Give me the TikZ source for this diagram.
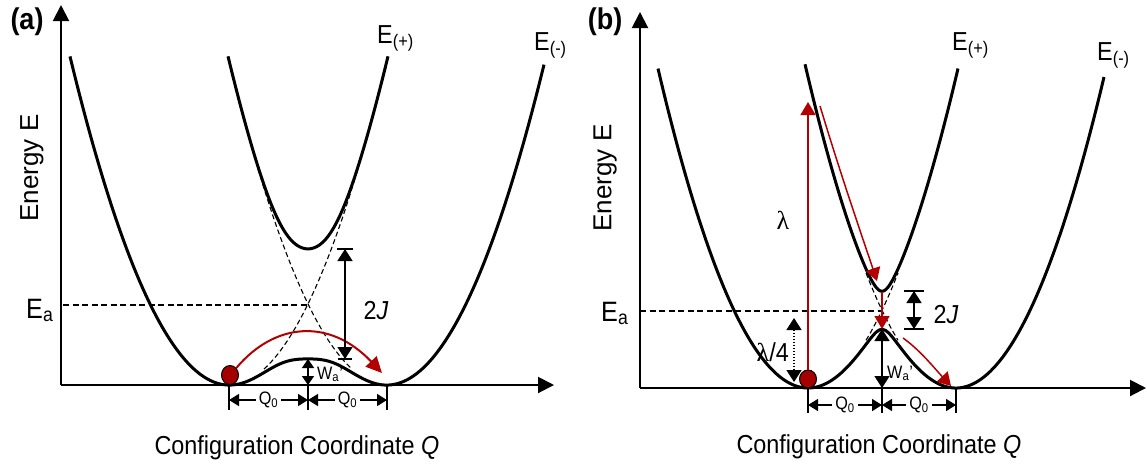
\documentclass[tikz,border=0pt]{standalone}
\usepackage{fontspec}
\setmainfont{Liberation Sans}[FakeStretch=0.9]
\newfontfamily\uprightsans{Liberation Sans}
\newfontfamily\lamfont{Liberation Serif}
\usepackage{xcolor}
\usepackage{tikz}
\usetikzlibrary{arrows.meta, shapes.geometric}
\definecolor{hopred}{RGB}{178,0,0}
\definecolor{ballred}{RGB}{165,0,0}
\def\skA{0.11402}
\def\skB{0.11916}
\tikzset{declare function={
  dia(\q,\ca,\s)=(\s*(\q-\ca))^2;
  cpl(\q,\ca,\cb,\j)=\j*exp(-min(((\q-0.5*(\ca+\cb))/50)^2,9));
  eup(\q,\ca,\cb,\s,\j)=0.5*(dia(\q,\ca,\s)+dia(\q,\cb,\s))+10*veclen(0.05*(dia(\q,\ca,\s)-dia(\q,\cb,\s)),0.1*cpl(\q,\ca,\cb,\j));
  elo(\q,\ca,\cb,\s,\j)=0.5*(dia(\q,\ca,\s)+dia(\q,\cb,\s))-10*veclen(0.05*(dia(\q,\ca,\s)-dia(\q,\cb,\s)),0.1*cpl(\q,\ca,\cb,\j));
}}
\newcommand{\wells}[9]{%
% #1 = axis row, #2/#3 = well centres, #4 = sqrt of force constant, #5 = J
% #6-#7 = domain of E(-), #8-#9 = domain of E(+)
\draw[pes] plot[domain=#6:#7] (\x,{#1-elo(\x,#2,#3,#4,#5)});
\draw[pes] plot[domain=#8:#9] (\x,{#1-eup(\x,#2,#3,#4,#5)});
}

\begin{document}
\begin{tikzpicture}[
    x=1pt, y=-1pt,
    pes/.style={line width=3pt, line join=round, smooth, samples=150},
    diab/.style={line width=1.1pt, dash pattern=on 5pt off 3pt, smooth, samples=40},
    axis/.style={line width=2pt, -{Triangle[length=16pt,width=16pt]}},
    guide/.style={line width=1.2pt, dash pattern=on 6pt off 3.5pt},
    tick/.style={line width=1.4pt},
    span/.style={line width=1.5pt, {Triangle[length=10pt,width=12pt]}-{Triangle[length=10pt,width=12pt]}},
    gap/.style={line width=1.5pt, {Triangle[length=12pt,width=15pt]}-{Triangle[length=12pt,width=15pt]}},
    wgap/.style={line width=1.5pt, {Triangle[length=9pt,width=12pt]}-{Triangle[length=9pt,width=12pt]}},
    hop/.style={hopred, line width=2pt, -{Triangle[length=16pt,width=15pt]}},
    hopthin/.style={hopred, line width=1.5pt, -{Triangle[length=13pt,width=15pt]}},
    ball/.style={ellipse, draw=black, line width=1pt, fill=ballred, minimum width=17pt, minimum height=19pt, inner sep=0pt},
    big/.style={font=\fontsize{26}{28}\selectfont, inner sep=0pt},
    large/.style={font=\fontsize{28}{30}\selectfont, inner sep=0pt},
    ylab/.style={font=\fontsize{26}{28}\selectfont\uprightsans, inner sep=0pt, rotate=90},
    small/.style={font=\fontsize{18}{20}\selectfont, inner sep=0pt},
    tag/.style={font=\fontsize{30}{32}\selectfont\bfseries, inner sep=0pt},
    qlabel/.style={small, fill=white, inner xsep=3pt, inner ysep=1pt}
]
\useasboundingbox (0,0) rectangle (1147,467);

% Panel (a)
\coordinate (originA) at (61,385);
\coordinate (yTopA) at (61,5);
\coordinate (xEndA) at (554,385);
\draw[axis] (originA) -- (yTopA);
\draw[axis] (originA) -- (xEndA);
\draw[diab] plot[domain=264:358] (\x,{385-dia(\x,229,\skA)});
\draw[diab] plot[domain=258:352] (\x,{385-dia(\x,387,\skA)});
\coordinate (eaLineA) at (63,305);
\coordinate (crossA) at (308,305);
\draw[guide] (eaLineA) -- (crossA);
\wells{385}{229}{387}{\skA}{55}{70}{544}{228}{388}
\node[ball] (ballA) at (230,375) {};
\coordinate (hopEndA) at (382,373);
\draw[hop] (ballA.north east) .. controls (275,322) and (330,318) .. (hopEndA);
\coordinate (jTopA) at (345,249);
\coordinate (jBotA) at (345,359);
\draw[gap] (jTopA) -- (jBotA);
\draw[tick] ([xshift=-8pt]jTopA) -- ([xshift=8pt]jTopA);
\draw[tick] ([xshift=-7pt]jBotA) -- ([xshift=7pt]jBotA);
\coordinate (wTopA) at (308,359);
\coordinate (wBotA) at (308,385);
\draw[wgap] (wTopA) -- (wBotA);
\coordinate (qLA) at (229,400);
\coordinate (qMA) at (308,400);
\coordinate (qRA) at (387,400);
\foreach \t in {qLA,qMA,qRA}
  \draw[tick] ([yshift=15pt]\t) -- ([yshift=-10pt]\t);
\draw[span] (qLA) -- node[qlabel] (q0LA) {Q\textsubscript{0}} (qMA);
\draw[span] (qMA) -- node[qlabel] (q0RA) {Q\textsubscript{0}} (qRA);
\node[tag] (tagA) at (27,22) {(a)};
\node[ylab] (yLabA) at (32,168) {Energy E};
\node[large, anchor=base west] (eaA) at (26,318) {E\textsubscript{a}};
\node[big, anchor=base west] (eplusA) at (377,43) {E\textsubscript{(+)}};
\node[big, anchor=base west] (eminusA) at (534,50) {E\textsubscript{(-)}};
\node[big] (twoJA) at (376,311) {2\textit{J}};
\node[small, anchor=base west] (waA) at (317,379) {W\textsubscript{a}'};
\node[big] (xLabA) at (297,448) {Configuration Coordinate \textit{Q}};

% Panel (b)
\coordinate (originB) at (640,388);
\coordinate (yTopB) at (640,12);
\coordinate (xEndB) at (1146,388);
\draw[axis] (originB) -- (yTopB);
\draw[axis] (originB) -- (xEndB);
\draw[diab] plot[domain=866:898] (\x,{388-dia(\x,808,\skB)});
\draw[diab] plot[domain=866:898] (\x,{388-dia(\x,956,\skB)});
\coordinate (eaLineB) at (640,311);
\coordinate (crossB) at (882,311);
\draw[guide] (eaLineB) -- (crossB);
\wells{388}{808}{956}{\skB}{19}{658}{1104}{805}{958}
\node[ball, minimum width=17pt, minimum height=18pt] (ballB) at (808,379) {};
\coordinate (exciteB) at (808,102);
\draw[hopthin] (ballB.north) -- (exciteB);
\coordinate (slideB) at (820,106);
\coordinate (landB) at (877,281);
\draw[hopthin] (slideB) .. controls (843,182) and (864,242) .. (landB);
\coordinate (pminB) at (882,292);
\coordinate (bmaxB) at (882,329);
\draw[hopthin] (pminB) -- (bmaxB);
\coordinate (rollB) at (903,338);
\coordinate (restB) at (951,386);
\draw[hopthin] (rollB) .. controls (920,350) and (936,370) .. (restB);
\coordinate (qTopB) at (794,318);
\coordinate (qBotB) at (794,382);
\draw[gap, dash pattern=on 1.5pt off 1.5pt] (qTopB) -- (qBotB);
\coordinate (jTopB) at (914,291);
\coordinate (jBotB) at (914,329);
\draw[gap] (jTopB) -- (jBotB);
\draw[tick] ([xshift=-10pt]jTopB) -- ([xshift=10pt]jTopB);
\draw[tick] ([xshift=-10pt]jBotB) -- ([xshift=10pt]jBotB);
\coordinate (wTopB) at (882,329);
\coordinate (wBotB) at (882,388);
\draw[gap] (wTopB) -- (wBotB);
\coordinate (qLB) at (808,405);
\coordinate (qMB) at (882,405);
\coordinate (qRB) at (956,405);
\foreach \t in {qLB,qMB,qRB}
  \draw[tick] ([yshift=17pt]\t) -- ([yshift=-8pt]\t);
\draw[span] (qLB) -- node[qlabel] (q0LB) {Q\textsubscript{0}} (qMB);
\draw[span] (qMB) -- node[qlabel] (q0RB) {Q\textsubscript{0}} (qRB);
\node[tag] (tagB) at (605,22) {(b)};
\node[ylab] (yLabB) at (605,178) {Energy E};
\node[large, anchor=base west] (eaB) at (601,321) {E\textsubscript{a}};
\node[big, anchor=base west] (eplusB) at (952,50) {E\textsubscript{(+)}};
\node[big, anchor=base west] (eminusB) at (1097,60) {E\textsubscript{(-)}};
\node[big] (twoJB) at (946,315) {2\textit{J}};
\node[small, anchor=base west] (waB) at (887,378) {W\textsubscript{a}'};
\node[font=\fontsize{26}{28}\selectfont\lamfont, inner sep=0pt] (lamB) at (783,220) {λ};
\node[big, anchor=east] (quartB) at (789,352) {{\lamfont λ}/4};
\node[big] (xLabB) at (879,447) {Configuration Coordinate \textit{Q}};
\end{tikzpicture}
\end{document}
